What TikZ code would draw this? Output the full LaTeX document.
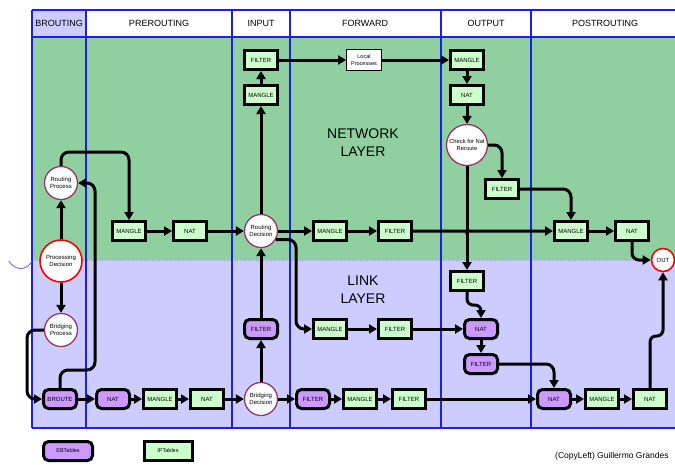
\documentclass[tikz,border=0pt]{standalone}
\usepackage{fontspec}
\setmainfont{Liberation Sans}
\usetikzlibrary{arrows.meta}
\definecolor{netgreen}{RGB}{144,208,160}
\definecolor{linkpurple}{RGB}{204,204,255}
\definecolor{boxgreen}{RGB}{204,255,204}
\definecolor{boxpurple}{RGB}{204,153,255}
\definecolor{circmaroon}{RGB}{153,51,102}
\definecolor{gridblue}{RGB}{30,30,235}
\begin{document}
\begin{tikzpicture}[x=1pt,y=-1pt,
 every node/.style={inner sep=0pt},
 gbox/.style={draw=black, line width=3pt, fill=boxgreen, minimum width=33pt, minimum height=19pt, font=\fontsize{6}{7}\selectfont},
 pbox/.style={gbox, fill=boxpurple, rounded corners=5pt},
 rcirc/.style={circle, draw=circmaroon, line width=1.3pt, fill=white, minimum size=33pt, align=center, font=\fontsize{6}{7}\selectfont},
 redcirc/.style={rcirc, draw=red, line width=1.6pt},
 conn/.style={line width=3pt, rounded corners=8pt, -{Triangle[length=8pt,width=9pt]}},
 gridline/.style={draw=gridblue, line width=1.1pt},
 hdr/.style={font=\fontsize{9}{10}\selectfont},
 layer/.style={font=\fontsize{14}{16}\selectfont, align=center}
]
\useasboundingbox (0,0) rectangle (675,464);
\fill[white] (0,0) rectangle (675,464);
\fill[netgreen] (32,37) rectangle (675,260);
\fill[linkpurple] (32,260) rectangle (675,428);
\fill[linkpurple] (32,10) rectangle (86,37);
\draw[blue!40, dotted, line width=0.6pt] (32,260) -- (675,260);
\draw[gridline] (32,10) -- (675,10);
\draw[gridline] (32,37) -- (675,37);
\draw[gridline] (32,428) -- (675,428);
\foreach \xx in {32,86,232,290,441,531} {\draw[gridline] (\xx,10) -- (\xx,428);}
\draw[gridblue!70, line width=0.8pt] (9,261) .. controls (14,270) and (26,272) .. (32,261);

% headers
\node[hdr] (hBR) at (59,23) {BROUTING};
\node[hdr] (hPRE) at (159,23) {PREROUTING};
\node[hdr] (hIN) at (261,23) {INPUT};
\node[hdr] (hFW) at (365,23) {FORWARD};
\node[hdr] (hOUT) at (486,23) {OUTPUT};
\node[hdr] (hPOST) at (605,23) {POSTROUTING};

% layer labels
\node[layer] (netl) at (363,143) {NETWORK\\[2pt]LAYER};
\node[layer] (linkl) at (363,290) {LINK\\[2pt]LAYER};

% brouting column
\node[rcirc] (RP) at (61,183) {Routing\\Process};
\node[redcirc, minimum size=42pt] (PD) at (61,261) {Processing\\Decision};
\node[rcirc] (BP) at (61,330) {Bridging\\Process};
\node[pbox] (BROUTE) at (60,399) {BROUTE};

% prerouting
\node[pbox] (pNAT1) at (113,399) {NAT};
\node[gbox] (gMANGLE1) at (160,399) {MANGLE};
\node[gbox] (gNAT1) at (207,399) {NAT};
\node[gbox] (preMANGLE) at (129,231) {MANGLE};
\node[gbox] (preNAT) at (190,231) {NAT};

% input
\node[rcirc] (BD) at (261,399) {Bridging\\Decision};
\node[pbox] (pFILTERin) at (261,329) {FILTER};
\node[rcirc] (RD) at (261,231) {Routing\\Decision};
\node[gbox] (inMANGLE) at (261,95) {MANGLE};
\node[gbox] (inFILTER) at (261,60) {FILTER};

% forward
\node[draw=black, line width=0.8pt, fill=white, minimum width=35pt, minimum height=21pt, align=center, font=\fontsize{5.5}{6.5}\selectfont] (LP) at (364,60) {Local\\Processes};
\node[gbox] (fwMANGLE) at (330,231) {MANGLE};
\node[gbox] (fwFILTER) at (395,231) {FILTER};
\node[gbox] (fwlMANGLE) at (330,329) {MANGLE};
\node[gbox] (fwlFILTER) at (395,329) {FILTER};
\node[pbox] (pFILTERfw) at (313,399) {FILTER};
\node[gbox] (fwbMANGLE) at (360,399) {MANGLE};
\node[gbox] (fwbFILTER) at (409,399) {FILTER};

% output
\node[gbox] (outMANGLE) at (467,60) {MANGLE};
\node[gbox] (outNAT) at (467,95) {NAT};
\node[rcirc, minimum size=41pt, font=\fontsize{5.8}{6.8}\selectfont] (CNR) at (467,145) {Check for Nat\\Reroute};
\node[gbox] (outFILTERn) at (502,189) {FILTER};
\node[gbox] (outFILTERl) at (467,281) {FILTER};
\node[pbox] (pNATout) at (481,329) {NAT};
\node[pbox] (pFILTERout) at (481,364) {FILTER};

% postrouting
\node[gbox] (postMANGLEn) at (571,231) {MANGLE};
\node[gbox] (postNATn) at (632,231) {NAT};
\node[redcirc, minimum size=23pt] (OUT) at (663,260) {OUT};
\node[pbox] (pNATpost) at (554,399) {NAT};
\node[gbox] (postMANGLEl) at (602,399) {MANGLE};
\node[gbox] (postNATl) at (650,399) {NAT};

% legend
\node[pbox, minimum width=49pt, font=\fontsize{5.5}{6.5}\selectfont] (ebt) at (68,451) {EBTables};
\node[gbox, minimum width=48pt, font=\fontsize{5.5}{6.5}\selectfont] (ipt) at (168,451) {IPTables};
\node[anchor=west, font=\fontsize{8.5}{10}\selectfont] (cl) at (555,456) {(CopyLeft) Guillermo Grandes};

% connectors
\draw[conn] (PD) -- (RP);
\draw[conn] (PD) -- (BP);
\draw[conn] (RP.north) |- (129,152) -- (preMANGLE.north);
\draw[conn] (BROUTE.north) |- (95,370) |- (RP.east);
\draw[conn] (BP.west) -| (27,399) -- (BROUTE.west);
\draw[conn] (BROUTE) -- (pNAT1);
\draw[conn] (pNAT1) -- (gMANGLE1);
\draw[conn] (gMANGLE1) -- (gNAT1);
\draw[conn] (gNAT1) -- (BD);
\draw[conn] (BD) -- (pFILTERin);
\draw[conn] (pFILTERin) -- (RD);
\draw[conn] (RD) -- (inMANGLE);
\draw[conn] (inMANGLE) -- (inFILTER);
\draw[conn] (inFILTER) -- (LP);
\draw[conn] (LP) -- (outMANGLE);
\draw[conn] (outMANGLE) -- (outNAT);
\draw[conn] (outNAT) -- (CNR);
\draw[conn] (preMANGLE) -- (preNAT);
\draw[conn] (preNAT) -- (RD);
\draw[conn] (RD) -- (fwMANGLE);
\draw[conn] (fwMANGLE) -- (fwFILTER);
\draw[conn, line join=round] (fwFILTER.east) -- (460,231) .. controls (465,231) and (467,230) .. (467,226) .. controls (467,230) and (469,231) .. (474,231) -- (postMANGLEn.west);
\draw[conn] (postMANGLEn) -- (postNATn);
\draw[conn, rounded corners=7pt] (postNATn.south) |- (OUT.west);
\draw[conn] (RD.-30) -| (296,329) -- (fwlMANGLE.west);
\draw[conn] (fwlMANGLE) -- (fwlFILTER);
\draw[conn] (fwlFILTER) -- (pNATout);
\draw[conn] (CNR.south) -- (outFILTERl.north);
\draw[conn] (CNR.east) -| (outFILTERn.north);
\draw[conn] (outFILTERn.east) -| (postMANGLEn.north);
\draw[conn, rounded corners=6pt] (outFILTERl.south) -- (467,305) -| (pNATout.north);
\draw[conn] (pNATout) -- (pFILTERout);
\draw[conn] (pFILTERout.east) -| (pNATpost.north);
\draw[conn] (BD) -- (pFILTERfw);
\draw[conn] (pFILTERfw) -- (fwbMANGLE);
\draw[conn] (fwbMANGLE) -- (fwbFILTER);
\draw[conn] (fwbFILTER) -- (pNATpost);
\draw[conn] (pNATpost) -- (postMANGLEl);
\draw[conn] (postMANGLEl) -- (postNATl);
\draw[conn, rounded corners=6pt] (postNATl.north) -- (650,336) -| (OUT.south);
\end{tikzpicture}
\end{document}
